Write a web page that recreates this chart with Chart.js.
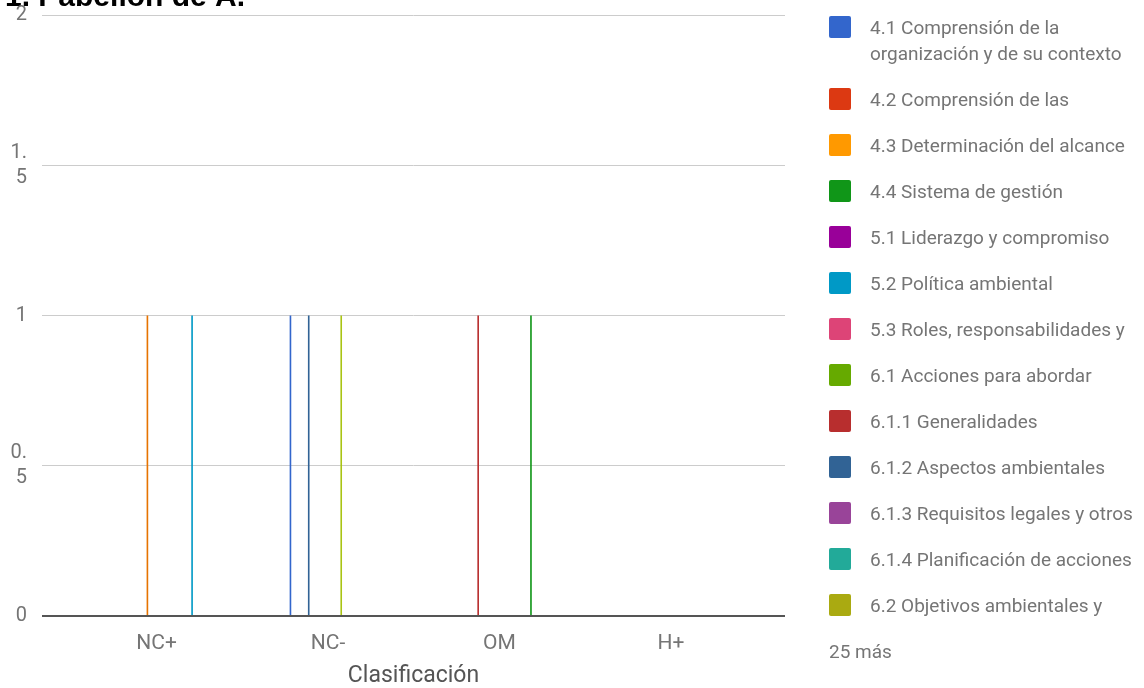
<!DOCTYPE html>
<html>
<head>
<meta charset="utf-8">
<script src="https://cdn.jsdelivr.net/npm/chart.js@4/dist/chart.umd.min.js"></script>
<style>
  body { margin: 0; background: #fff; }
  #wrap { position: relative; width: 1144px; height: 688px; overflow: hidden; }
  #legend { position: absolute; left: 829px; top: 14.5px; font-family: Roboto, sans-serif; font-size: 19px; color: #757575; }
  .item { position: relative; padding-left: 41px; line-height: 26px; margin-bottom: 20px; white-space: pre; }
  .item .box { position: absolute; left: 0; top: 1.5px; width: 22px; height: 22px; border-radius: 2px; }
  .more { line-height: 26px; color: #757575; }
</style>
</head>
<body>
<div id="wrap">
  <canvas id="chart" width="1144" height="688"></canvas>
  <div id="legend"></div>
</div>
<script>
"use strict";
const chartTitle = "1. Pabellón de A.";
const xTitle = "Clasificación";
const categories = ["NC+", "NC-", "OM", "H+"];
const yTicks = [0, 0.5, 1, 1.5, 2];
const yTickLabels = ["0", ["0.", "5"], "1", ["1.", "5"], "2"];

// series names (first 13 as the legend shows them)
const seriesNames = [
  "4.1 Comprensión de la\norganización y de su contexto",
  "4.2 Comprensión de las",
  "4.3 Determinación del alcance",
  "4.4 Sistema de gestión",
  "5.1 Liderazgo y compromiso",
  "5.2 Política ambiental",
  "5.3 Roles, responsabilidades y",
  "6.1 Acciones para abordar",
  "6.1.1 Generalidades",
  "6.1.2 Aspectos ambientales",
  "6.1.3 Requisitos legales y otros",
  "6.1.4 Planificación de acciones",
  "6.2 Objetivos ambientales y",
  "6.2.1 Objetivos ambientales",
  "6.2.2 Planificación de acciones para lograr",
  "7.1 Recursos",
  "7.2 Competencia",
  "7.3 Toma de conciencia",
  "7.4 Comunicación",
  "7.4.1 Generalidades",
  "7.4.2 Comunicación interna",
  "7.4.3 Comunicación externa",
  "7.5 Información documentada",
  "7.5.1 Generalidades",
  "7.5.2 Creación y actualización",
  "7.5.3 Control de la información",
  "8.1 Planificación y control operacional",
  "8.2 Preparación y respuesta ante emergencias",
  "9.1 Seguimiento, medición, análisis",
  "9.1.1 Generalidades",
  "9.1.2 Evaluación del cumplimiento",
  "9.2 Auditoría interna",
  "9.2.1 Generalidades",
  "9.2.2 Programa de auditoría interna",
  "9.3 Revisión por la dirección",
  "10.1 Generalidades",
  "10.2 No conformidad y acción correctiva",
  "10.3 Mejora continua"
];

// one row per series: NC+, NC-, OM, H+
const seriesValues = [
  [0, 1, 0, 0], [0, 0, 0, 0], [0, 0, 0, 0], [0, 0, 0, 0], [0, 0, 0, 0],
  [0, 0, 0, 0], [0, 0, 0, 0], [0, 0, 0, 0], [0, 0, 1, 0], [0, 1, 0, 0],
  [0, 0, 0, 0], [0, 0, 0, 0], [0, 0, 0, 0], [0, 0, 0, 0], [1, 0, 0, 0],
  [0, 0, 0, 0], [0, 0, 0, 0], [0, 0, 0, 0], [0, 0, 0, 0], [0, 0, 0, 0],
  [0, 0, 0, 0], [0, 0, 0, 0], [0, 0, 0, 0], [0, 0, 0, 0], [0, 0, 0, 0],
  [0, 1, 0, 0], [0, 0, 0, 0], [0, 0, 0, 0], [0, 0, 0, 0], [0, 0, 0, 0],
  [0, 0, 0, 0], [0, 0, 0, 0], [0, 0, 0, 0], [0, 0, 0, 0], [0, 0, 1, 0],
  [0, 0, 0, 0], [1, 0, 0, 0], [0, 0, 0, 0]
];

const palette = [
  "#3366cc", "#dc3912", "#ff9900", "#109618", "#990099", "#0099c6", "#dd4477",
  "#66aa00", "#b82e2e", "#316395", "#994499", "#22aa99", "#aaaa11", "#6633cc",
  "#e67300", "#8b0707", "#651067", "#329262", "#5574a6", "#3b3eac", "#b77322",
  "#16d620", "#b91383", "#f4359e", "#9c5935", "#a9c413", "#2a778d", "#668d1c",
  "#bea413", "#0c5922", "#743411"
];
const legendShown = 13;

const datasets = seriesNames.map((name, i) => ({
  label: name.replace("\n", " "),
  data: seriesValues[i].map((v, k) => ({ x: k, y: v })),
  backgroundColor: palette[i % palette.length],
  borderWidth: 0,
  categoryPercentage: 0.45,
  barPercentage: 0.8
}));

new Chart(document.getElementById("chart"), {
  type: "bar",
  data: { datasets: datasets },
  options: {
    responsive: false,
    animation: false,
    devicePixelRatio: 1,
    layout: { autoPadding: false, padding: { left: 5, right: 359, top: 0, bottom: 0 } },
    plugins: {
      legend: { display: false },
      tooltip: { enabled: false },
      title: {
        display: true,
        text: chartTitle,
        align: "start",
        color: "#000",
        font: { family: "'Liberation Sans', Arial, sans-serif", size: 30, weight: "bold", lineHeight: 1.2 },
        // title sits mostly above the canvas, as in the original
        padding: { top: -20, bottom: -1 }
      }
    },
    scales: {
      x: {
        type: "linear",
        min: -0.668,
        max: 3.665,
        bounds: "data",
        offset: false,
        afterBuildTicks: (scale) => { scale.ticks = categories.map((c, i) => ({ value: i })); },
        afterFit: (scale) => { scale.height = 72; },
        grid: { display: false, drawTicks: false },
        border: { display: false },
        ticks: {
          padding: 15,
          color: "#757575",
          font: { family: "Roboto", size: 21 },
          autoSkip: false,
          maxRotation: 0,
          callback: (v) => categories[v]
        },
        title: {
          display: true,
          text: xTitle,
          color: "#555",
          font: { family: "Roboto", size: 23 },
          padding: { top: 0, bottom: -2 }
        }
      },
      y: {
        min: 0,
        max: 2,
        afterBuildTicks: (scale) => { scale.ticks = yTicks.map((v) => ({ value: v })); },
        // fixed width, and no extra room above the top label
        afterFit: (scale) => {
          scale.width = 37;
          scale.paddingTop = 0;
          scale.paddingBottom = 0;
        },
        grid: {
          color: (ctx) => (ctx.tick && ctx.tick.value === 0 ? "#555" : "#cccccc"),
          lineWidth: (ctx) => (ctx.tick && ctx.tick.value === 0 ? 2 : 1),
          drawTicks: false
        },
        border: { display: false },
        ticks: {
          padding: 15,
          color: "#757575",
          font: { family: "Roboto", size: 20, lineHeight: 1.25 },
          callback: (v, i) => yTickLabels[i]
        }
      }
    }
  }
});

// legend like the original: first entries and a "more" line
const LEGEND = document.getElementById("legend");
seriesNames.slice(0, legendShown).forEach((name, i) => {
  const item = document.createElement("div");
  item.className = "item";
  const box = document.createElement("span");
  box.className = "box";
  box.style.background = palette[i % palette.length];
  item.appendChild(box);
  item.appendChild(document.createTextNode(name));
  LEGEND.appendChild(item);
});
const more = document.createElement("div");
more.className = "more";
more.textContent = (seriesNames.length - legendShown) + " más";
LEGEND.appendChild(more);
</script>
</body>
</html>
